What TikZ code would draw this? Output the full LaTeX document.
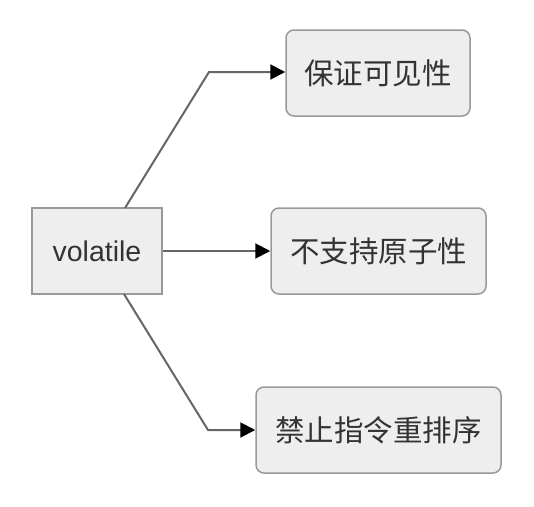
\documentclass[tikz,border=0pt]{standalone}
\usepackage{fontspec}
\setmainfont{Liberation Sans}
\newfontfamily\cjk{Noto Sans CJK SC}
\usetikzlibrary{arrows.meta}
\definecolor{boxfill}{HTML}{EEEEEE}
\definecolor{boxline}{HTML}{999999}
\definecolor{linkcol}{HTML}{666666}
\definecolor{txtcol}{HTML}{333333}
\begin{document}
\begin{tikzpicture}[x=1pt,y=-1pt,
  basebox/.style={draw=boxline,fill=boxfill,line width=1.5pt,inner sep=0pt,text=txtcol,minimum height=86pt},
  rootbox/.style={basebox,minimum width=130pt,font=\fontsize{28.5}{32}\selectfont},
  leafbox/.style={basebox,rounded corners=8pt,font=\cjk\fontsize{29.5}{34}\selectfont},
  link/.style={draw=linkcol,line width=2pt,-{Triangle[length=15pt,width=15pt,fill=black,color=black]}}]
\useasboundingbox (0,0) rectangle (534,506);
\node[rootbox] (root) at (97,251) {volatile};
\node[leafbox,minimum width=184pt] (a) at (378,73) {保证可见性};
\node[leafbox,minimum width=215pt] (b) at (378.5,251) {不支持原子性};
\node[leafbox,minimum width=245pt] (c) at (378.5,430) {禁止指令重排序};
\coordinate (ta) at (125,208);
\coordinate (ba) at (209,72);
\coordinate (tc) at (124,294);
\coordinate (bc) at (208,430);
\draw[link] (ta) -- (ba) -- (a.west |- ba);
\draw[link] (root.east) -- (b.west);
\draw[link] (tc) -- (bc) -- (c.west |- bc);
\end{tikzpicture}
\end{document}
